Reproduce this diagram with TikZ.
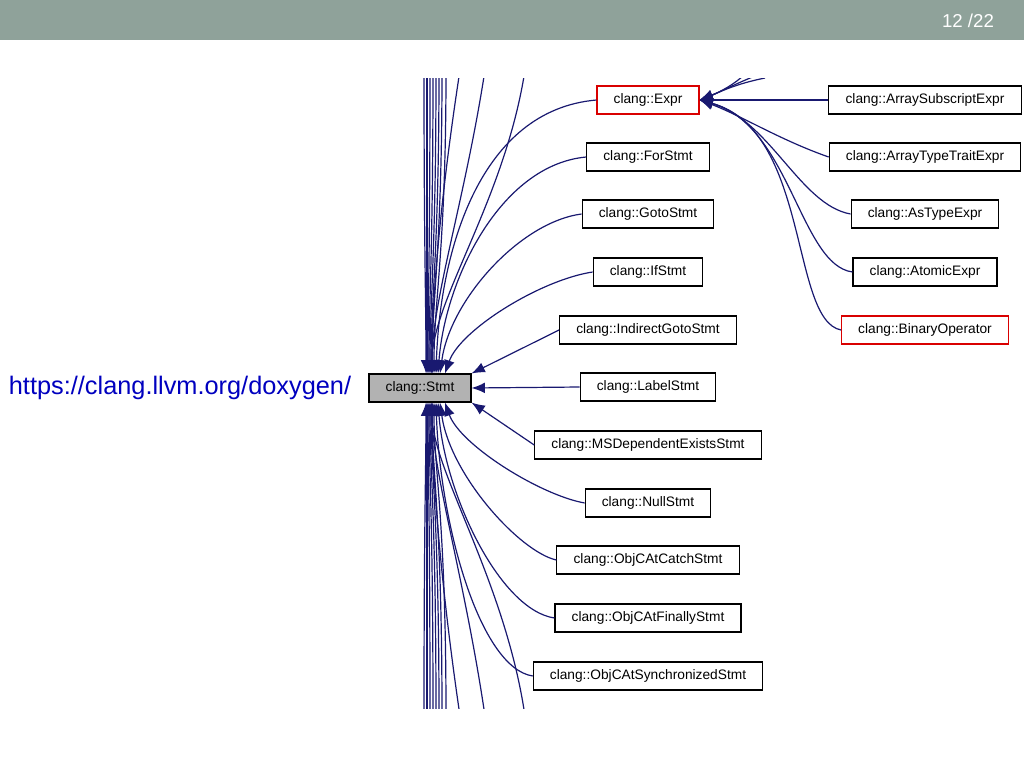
\documentclass[tikz,border=0pt]{standalone}
\usepackage{fontspec}
\setmainfont{Liberation Sans}
\usetikzlibrary{arrows.meta}
\definecolor{edge}{HTML}{191970}
\definecolor{hdr}{HTML}{8FA29A}
\begin{document}
\begin{tikzpicture}[x=0.75pt,y=-0.75pt,
  cls/.style={draw=black,fill=white,minimum height=21pt,inner xsep=12.5pt,font=\fontsize{10.3}{12}\selectfont,line width=0.8pt},
  red/.style={draw=red!85!black},
  e/.style={draw=edge,line width=0.9pt,-{Latex[length=10pt,width=8pt]}},
  b/.style={draw=edge,line width=0.9pt}]
\useasboundingbox (0,0) rectangle (1024,768);
\fill[hdr] (0,0) rectangle (1024,40);
\node[text=white,font=\fontsize{14}{16}\selectfont] (pg) at (968,21) {12 /22};
\node[text=blue!75!black,font=\fontsize{19}{21}\selectfont] (url) at (180,388) {https://clang.llvm.org/doxygen/};
\node[cls,fill=black!30,minimum width=75pt] (stmt) at (420,388) {clang::Stmt};
\node[cls,red,minimum width=75pt] (expr) at (648,100) {clang::Expr};
\node[cls] (for) at (648,157) {clang::ForStmt};
\node[cls] (goto) at (648,214) {clang::GotoStmt};
\node[cls] (if) at (648,272) {clang::IfStmt};
\node[cls] (ind) at (648,330) {clang::IndirectGotoStmt};
\node[cls] (lab) at (648,387) {clang::LabelStmt};
\node[cls] (ms) at (648,445) {clang::MSDependentExistsStmt};
\node[cls] (null) at (648,503) {clang::NullStmt};
\node[cls] (cat) at (648,560) {clang::ObjCAtCatchStmt};
\node[cls] (fin) at (648,618) {clang::ObjCAtFinallyStmt};
\node[cls] (syn) at (648,676) {clang::ObjCAtSynchronizedStmt};
\node[cls] (ase) at (925,100) {clang::ArraySubscriptExpr};
\node[cls] (ate) at (925,157) {clang::ArrayTypeTraitExpr};
\node[cls] (ast) at (925,214) {clang::AsTypeExpr};
\node[cls] (ato) at (925,272) {clang::AtomicExpr};
\node[cls,red] (bin) at (925,330) {clang::BinaryOperator};
\begin{scope}
\clip (300,78) rectangle (1024,708);
\foreach \x/\t in {424/426,427/427,430/428,433/429,436/430,439/431,442/432,446/434}{
  \coordinate (tt) at (\x,70); \coordinate (bt) at (\x,716);
  \draw[e] (tt) .. controls (\x,250) and (\t,300) .. (stmt.north -| {\t,0});
  \draw[e] (bt) .. controls (\x,520) and (\t,470) .. (stmt.south -| {\t,0});
}
\foreach \x in {460,485,525}{
  \coordinate (tt) at (\x,70); \coordinate (bt) at (\x,716);
  \draw[e] (tt) .. controls (\x-20,200) and (432,300) .. (stmt.north -| {432,0});
  \draw[e] (bt) .. controls (\x-20,580) and (432,470) .. (stmt.south -| {432,0});
}
\foreach \x/\y in {745/74,755/76,765/78}{
  \coordinate (et) at (\x,\y);
  \draw[e] (et) .. controls (735,84) and (720,92) .. (expr.east);
}
\end{scope}
\draw[e] (expr.west) .. controls (480,110) and (440,250) .. (stmt.north -| {436,0});
\draw[e] (for.west) .. controls (500,165) and (445,280) .. (stmt.north -| {438,0});
\draw[e] (goto.west) .. controls (520,222) and (450,300) .. (stmt.north -| {440,0});
\draw[e] (if.west) .. controls (540,280) and (460,330) .. (stmt.north -| {445,0});
\draw[e] (ind.west) -- (stmt.north east);
\draw[e] (lab.west) -- (stmt.east);
\draw[e] (ms.west) -- (stmt.south east);
\draw[e] (null.west) .. controls (540,495) and (460,445) .. (stmt.south -| {445,0});
\draw[e] (cat.west) .. controls (520,552) and (450,475) .. (stmt.south -| {440,0});
\draw[e] (fin.west) .. controls (500,610) and (445,495) .. (stmt.south -| {438,0});
\draw[e] (syn.west) .. controls (480,668) and (440,525) .. (stmt.south -| {436,0});
\draw[e] (ase.west) -- (expr.east);
\draw[e] (ate.west) .. controls (780,140) and (740,115) .. (expr.east);
\draw[e] (ast.west) .. controls (800,205) and (770,120) .. (expr.east);
\draw[e] (ato.west) .. controls (800,265) and (790,125) .. (expr.east);
\draw[e] (bin.west) .. controls (790,320) and (810,130) .. (expr.east);
\end{tikzpicture}
\end{document}
